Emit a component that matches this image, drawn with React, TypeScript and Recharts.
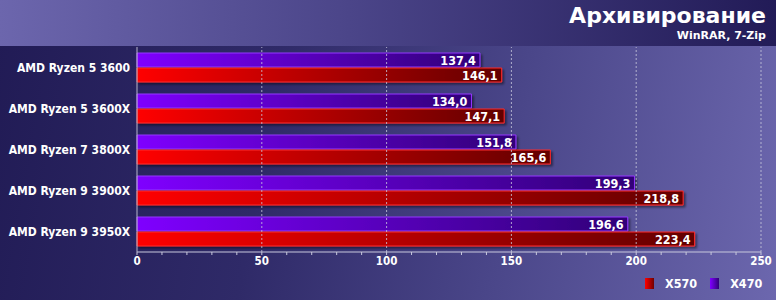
import { Bar, BarChart, LabelList, XAxis, YAxis, ReferenceLine } from "recharts";

const CPUS = [
  "AMD Ryzen 5 3600",
  "AMD Ryzen 5 3600X",
  "AMD Ryzen 7 3800X",
  "AMD Ryzen 9 3900X",
  "AMD Ryzen 9 3950X",
];
const X470 = [137.4, 134.0, 151.8, 199.3, 196.6];
const X570 = [146.1, 147.1, 165.6, 218.8, 223.4];
const TICKS = [0, 10, 20, 30, 40, 50, 60, 70, 80, 90, 100, 110, 120, 130, 140, 150, 160, 170, 180, 190, 200, 210, 220, 230, 240, 250];
const GRID = [50, 100, 150, 200, 250];

const data = CPUS.map((name, i) => ({ name, x470: X470[i], x570: X570[i] }));

const FONT = "'DejaVu Sans', Verdana, sans-serif";
const NARROW = "'DejaVu Sans Condensed', 'Noto Sans', sans-serif";
const fmt = (v: number) => v.toFixed(1).replace(".", ",");

function BarValue(props: any) {
  const { x, y, width, height, value } = props;
  return (
    <text
      x={x + width - 4}
      y={y + height / 2}
      dy="0.36em"
      textAnchor="end"
      fill="#fff"
      fontFamily={NARROW}
      fontWeight="bold"
      fontSize={12.5}
    >
      {fmt(value)}
    </text>
  );
}

function XTick(props: any) {
  const { x, y, payload } = props;
  if (payload.value % 50 !== 0) return null;
  return (
    <text x={x} y={y + 8} textAnchor="middle" fill="#fff" fontFamily={NARROW} fontWeight="bold" fontSize={11.5}>
      {payload.value}
    </text>
  );
}

function YTick(props: any) {
  const { x, y, payload } = props;
  return (
    <text x={x + 5} y={y} dy="0.36em" textAnchor="end" fill="#fff" fontFamily={NARROW} fontWeight="bold" fontSize={12}>
      {payload.value}
    </text>
  );
}

export default function App() {
  return (
    <div
      style={{
        position: "fixed",
        left: 0,
        top: 0,
        width: 776,
        height: 300,
        overflow: "hidden",
        background: "linear-gradient(100deg, #211b55 0%, #2f2a68 35%, #4a4689 65%, #6c67ae 100%)",
        fontFamily: FONT,
      }}
    >
      <svg width={0} height={0} style={{ position: "absolute" }}>
        <defs>
          <linearGradient id="gPurple" x1="0" y1="0" x2="1" y2="0">
            <stop offset="0%" stopColor="#7f00ff" />
            <stop offset="100%" stopColor="#300078" />
          </linearGradient>
          <linearGradient id="gRed" x1="0" y1="0" x2="1" y2="0">
            <stop offset="0%" stopColor="#ff0000" />
            <stop offset="100%" stopColor="#620000" />
          </linearGradient>
          <filter id="shadow" x="-5%" y="-20%" width="115%" height="160%">
            <feDropShadow dx="2" dy="2" stdDeviation="1" floodColor="#000" floodOpacity="0.45" />
          </filter>
        </defs>
      </svg>
      <div
        style={{
          position: "absolute",
          left: 0,
          top: 0,
          width: 776,
          height: 46,
          background: "linear-gradient(90deg, #6c66ad 0%, #4b4589 45%, #221b57 100%)",
        }}
      />
      <div
        style={{
          position: "absolute",
          right: 10,
          top: 3,
          color: "#fff",
          fontWeight: "bold",
          fontSize: 22,
          lineHeight: "26px",
          textAlign: "right",
        }}
      >
        Архивирование
      </div>
      <div
        style={{
          position: "absolute",
          right: 10,
          top: 29,
          color: "#fff",
          fontWeight: "bold",
          fontSize: 11,
          lineHeight: "13px",
          textAlign: "right",
        }}
      >
        WinRAR, 7-Zip
      </div>
      <div style={{ position: "absolute", left: 0, top: 0 }}>
        <BarChart
          width={776}
          height={300}
          data={data}
          layout="vertical"
          margin={{ top: 47, right: 15, bottom: 20, left: 0 }}
          barCategoryGap={6}
          barGap={1}
        >
          <XAxis
            type="number"
            domain={[0, 250]}
            ticks={TICKS}
            interval={0}
            height={28}
            axisLine={{ stroke: "#c8c8dc" }}
            tickLine={{ stroke: "#c8c8dc" }}
            tickSize={3}
            tick={<XTick />}
          />
          <YAxis
            type="category"
            dataKey="name"
            width={137}
            axisLine={{ stroke: "#b8b8cc" }}
            tickLine={false}
            tickMargin={6}
            tick={<YTick />}
          />
          {GRID.map((g) => (
            <ReferenceLine key={g} x={g} stroke="#c8c8dc" strokeDasharray="2 2" strokeOpacity={0.8} />
          ))}
          <Bar
            dataKey="x470"
            fill="url(#gPurple)"
            stroke="#9438ff"
            strokeWidth={1}
            filter="url(#shadow)"
            isAnimationActive={false}
          >
            <LabelList dataKey="x470" content={<BarValue />} />
          </Bar>
          <Bar
            dataKey="x570"
            fill="url(#gRed)"
            stroke="#ff2a2a"
            strokeWidth={1}
            filter="url(#shadow)"
            isAnimationActive={false}
          >
            <LabelList dataKey="x570" content={<BarValue />} />
          </Bar>
        </BarChart>
      </div>
      <div
        style={{
          position: "absolute",
          left: 645,
          top: 276,
          display: "flex",
          alignItems: "center",
          color: "#fff",
          fontWeight: "bold",
          fontSize: 12.5,
          fontFamily: NARROW,
        }}
      >
        <span style={{ display: "inline-block", width: 9, height: 11, background: "linear-gradient(90deg,#ff0000,#700000)", marginRight: 11 }} />
        <span style={{ marginRight: 13 }}>X570</span>
        <span style={{ display: "inline-block", width: 9, height: 11, background: "linear-gradient(90deg,#7f00ff,#300078)", marginRight: 11 }} />
        <span>X470</span>
      </div>
    </div>
  );
}
